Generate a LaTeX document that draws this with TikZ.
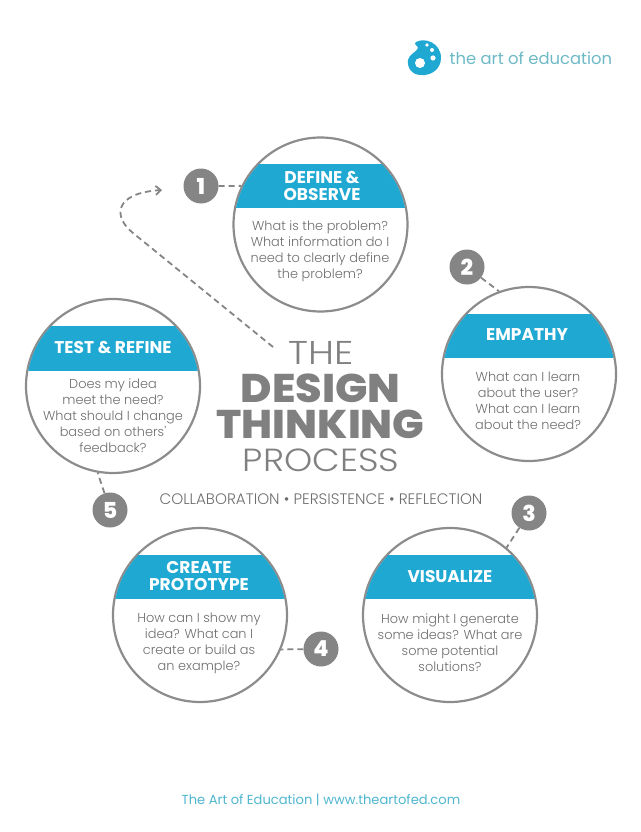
\documentclass[tikz,border=0pt]{standalone}
\usepackage{fontspec}
\setmainfont{Poppins}
\newfontfamily\thinfont{Poppins Light}
\newfontfamily\heavyfont{Poppins ExtraBold}
\usetikzlibrary{arrows.meta}
\definecolor{bandblue}{HTML}{1FA8D2}
\definecolor{ringgray}{HTML}{8C8C8C}
\definecolor{numgray}{HTML}{858585}
\definecolor{bodygray}{HTML}{6E6E6E}
\definecolor{titlegray}{HTML}{808080}
\definecolor{logotext}{HTML}{6DB9C6}
\definecolor{footblue}{HTML}{4FB6D0}
\newcommand{\stepband}[3]{\begin{scope}\clip (#1) circle (86pt);\fill[bandblue] (0,#2) rectangle (640,#3);\end{scope}}
\begin{document}
\begin{tikzpicture}[x=1pt,y=-1pt,
  stepcircle/.style={circle,draw=ringgray,line width=2.2pt,minimum size=174pt,inner sep=0pt},
  numdot/.style={circle,fill=numgray,text=white,minimum size=35pt,inner sep=0pt,font=\fontsize{22}{22}\selectfont\heavyfont},
  bandtext/.style={text=white,align=center,font=\fontsize{17}{17}\selectfont\bfseries},
  bodytext/.style={text=bodygray,align=center,font=\fontsize{12.9}{16}\selectfont\thinfont},
  titletext/.style={text=titlegray,inner sep=0pt},
  link/.style={draw=numgray,line width=1.8pt,dash pattern=on 6pt off 4pt}]
\useasboundingbox (0,0) rectangle (640,832);
% logo
\fill[bandblue] (416,42) .. controls (425,37) and (441,43) .. (441,58) .. controls (441,69) and (431,76) .. (421,75) .. controls (412,75) and (407,68) .. (408,60) .. controls (409,54) and (417,52) .. (418,48) .. controls (418,46) and (413,44) .. (416,42);
\fill[white] (420,63) circle (5pt);
\fill[white] (427,45) circle (1.8pt);
\fill[white] (432,50) circle (2pt);
\fill[white] (433,58) circle (2.6pt);
\node[text=logotext,font=\fontsize{16.4}{18}\selectfont,anchor=west] (logoname) at (446,58) {the art of education};
% circles
\node[stepcircle] (define) at (320.5,224.5) {};
\node[stepcircle] (empathy) at (529,374) {};
\node[stepcircle] (visualize) at (450,615) {};
\node[stepcircle] (prototype) at (200,615) {};
\node[stepcircle] (refine) at (113,386) {};
\stepband{define}{164}{208}
\stepband{empathy}{314}{358}
\stepband{visualize}{555}{599}
\stepband{prototype}{555}{599}
\stepband{refine}{326}{371}
\node[bandtext] (definehead) at (322,186) {DEFINE \&\\OBSERVE};
\node[bandtext] (empathyhead) at (527,335) {EMPATHY};
\node[bandtext] (visualizehead) at (450,577) {VISUALIZE};
\node[bandtext] (prototypehead) at (199,576) {CREATE\\PROTOTYPE};
\node[bandtext] (refinehead) at (113,348) {TEST \& REFINE};
\node[bodytext] (definebody) at (320,251) {What is the problem?\\What information do I\\need to clearly define\\the problem?};
\node[bodytext] (empathybody) at (528,401) {What can I learn\\about the user?\\What can I learn\\about the need?};
\node[bodytext] (visualizebody) at (450,643) {How might I generate\\some ideas? What are\\some potential\\solutions?};
\node[bodytext] (prototypebody) at (199,643) {How can I show my\\idea? What can I\\create or build as\\an example?};
\node[bodytext] (refinebody) at (113,416) {Does my idea\\meet the need?\\What should I change\\based on others'\\feedback?};
% numbers
\node[numdot] (one) at (201,186) {1};
\node[numdot] (two) at (467,267) {2};
\node[numdot] (three) at (529,513) {3};
\node[numdot] (four) at (321,649) {4};
\node[numdot] (five) at (110,510) {5};
\draw[link] (one) -- (define.154);
\draw[link] (two) -- (empathy.110);
\draw[link] (three) -- (visualize.50);
\draw[link] (four) -- (prototype.-23);
\draw[link] (five) -- (refine.260);
% title
\node[titletext,font=\fontsize{33}{33}\selectfont\thinfont] (the) at (321,353) {\scalebox{1.16}[1]{THE}};
\node[titletext,font=\fontsize{40}{40}\selectfont\heavyfont] (design) at (320.5,388) {\scalebox{1.07}[1]{DESIGN}};
\node[titletext,font=\fontsize{40}{40}\selectfont\heavyfont] (thinking) at (320.5,424) {\scalebox{1.045}[1]{THINKING}};
\node[titletext,font=\fontsize{32}{32}\selectfont\thinfont] (process) at (321,460) {\scalebox{1.12}[1]{PROCESS}};
\node[text=bodygray,font=\fontsize{15.2}{16}\selectfont\thinfont] (values) at (321,499) {COLLABORATION • PERSISTENCE • REFLECTION};
\node[text=footblue,font=\fontsize{13.1}{15}\selectfont] (footer) at (321,800) {The Art of Education | www.theartofed.com};
% return path
\coordinate (pathstart) at (273,347);
\coordinate (pathturn) at (133,233);
\coordinate (pathend) at (162,190);
\draw[link,-{Straight Barb[length=5pt,width=9pt]}] (pathstart) -- (pathturn) .. controls (112,216) and (115,193) .. (pathend);
\end{tikzpicture}
\end{document}
